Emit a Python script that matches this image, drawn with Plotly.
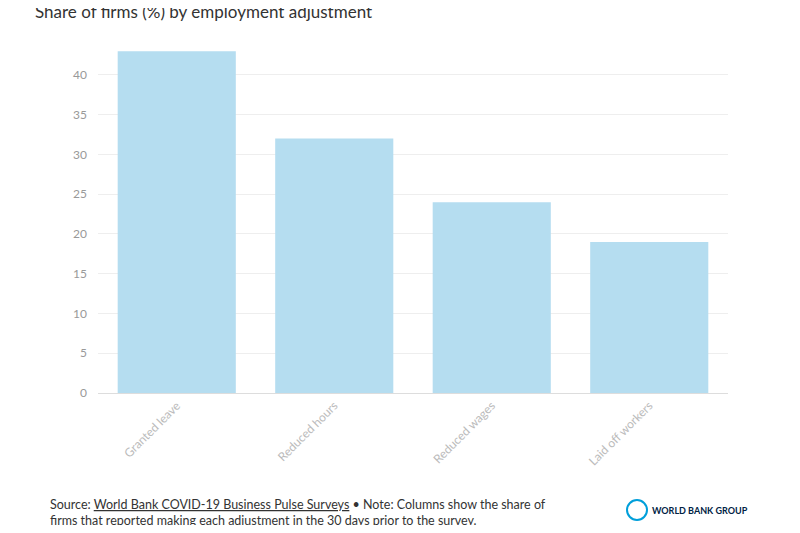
import plotly.graph_objects as go

categories = ["Granted leave", "Reduced hours", "Reduced wages", "Laid off workers"]
share_pct = [43, 32, 24, 19]
y_ticks = [0, 5, 10, 15, 20, 25, 30, 35, 40]

# page body has an 8px margin, so the figure is drawn 8px in from the corner
OFF = 8
W, H = 800 - 2 * OFF, 533 - 2 * OFF
L, R, T, B = 98 - OFF, 72 - OFF, 40 - OFF, 140 - OFF
pw, ph = W - L - R, H - T - B


def px(x, y):
    """reference pixel -> paper coords"""
    return (x - OFF - L) / pw, (H - B - (y - OFF)) / ph


fig = go.Figure(go.Bar(
    x=categories, y=share_pct,
    marker_color="#b5ddf0", marker_line_width=0,
    hoverinfo="x+y",
))

anns = []
sx, sy = px(48, 512)
anns.append(dict(
    text="Source: <u>World Bank COVID-19 Business Pulse Surveys</u> • Note: Columns show the share of<br>"
         "firms that reported making each adjustment in the 30 days prior to the survey.",
    x=sx, y=sy, xref="paper", yref="paper", xanchor="left", yanchor="middle",
    align="left", showarrow=False, font=dict(size=12.5, color="#333333")))
lx, ly = px(650, 510)
anns.append(dict(text="<b>WORLD BANK GROUP</b>", x=lx, y=ly, xref="paper", yref="paper",
                 xanchor="left", yanchor="middle", showarrow=False,
                 font=dict(size=9, color="#002244")))

fig.update_layout(
    width=W, height=H,
    margin=dict(l=L, r=R, t=T, b=B),
    paper_bgcolor="white", plot_bgcolor="white",
    font=dict(family="Lato, Noto Sans, sans-serif", color="#999999", size=12),
    title=dict(text="Share of firms (%) by employment adjustment",
               x=(35 - OFF) / W, xanchor="left", xref="container",
               y=1 - (12 - OFF) / H, yanchor="middle", yref="container",
               font=dict(size=17, color="#333333")),
    bargap=0.25,
    showlegend=False,
    xaxis=dict(tickangle=-45, tickfont=dict(size=12, color="#bbbbbb"),
               showline=True, linecolor="#dddddd", ticks=""),
    yaxis=dict(range=[0, 44.4], tickvals=y_ticks, showgrid=True,
               gridcolor="#eeeeee", zeroline=False, ticks="",
               tickfont=dict(size=12, color="#999999"), ticklabelstandoff=10),
    annotations=anns,
)

cx, cy = px(637, 510)
fig.add_shape(type="circle", xref="paper", yref="paper",
              x0=cx - 10 / pw, x1=cx + 10 / pw, y0=cy - 10 / ph, y1=cy + 10 / ph,
              line=dict(color="#009fda", width=2), fillcolor="white")

fig.write_html("out.html")
